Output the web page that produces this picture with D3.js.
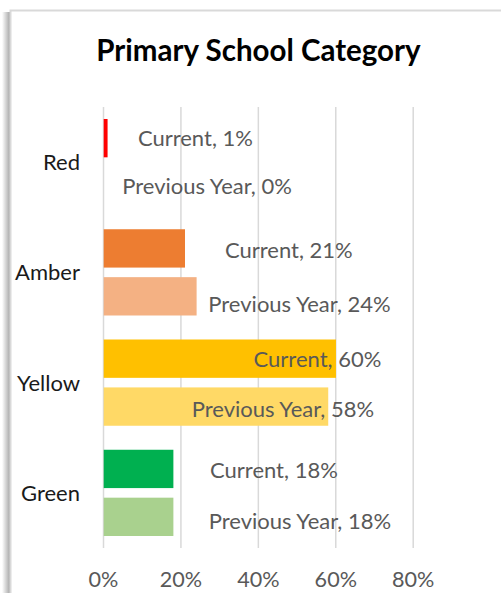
<!DOCTYPE html>
<html>
<head>
<meta charset="utf-8">
<script src="https://cdn.jsdelivr.net/npm/d3@7"></script>
<style>
  html, body { margin: 0; padding: 0; background: #fff; }
  svg { display: block; font-family: Lato, "Open Sans", sans-serif; }
</style>
</head>
<body>
<svg id="chart"></svg>
<script>
const categories = ['Red', 'Amber', 'Yellow', 'Green'];
const series = ['Current', 'Previous Year'];
const currentValues = [0.01, 0.21, 0.60, 0.18];
const previousValues = [0.00, 0.24, 0.58, 0.18];
const xTicks = [0, 0.2, 0.4, 0.6, 0.8];

// bar colours per category: [current, previous year]
const colors = {
  Red: ['#ff0000', '#ff9999'],
  Amber: ['#ed7d31', '#f4b183'],
  Yellow: ['#ffc000', '#ffd966'],
  Green: ['#00b050', '#a9d18e']
};

// hand placed data labels (centre in axis units, vertical nudge in px), as in the original
const labelCentre = [[0.2387, 0.2687], [0.480, 0.5076], [0.554, 0.4647], [0.4415, 0.5087]];
const labelNudge = [[0, 0.4], [1.7, 8], [0.4, 2.4], [0.7, 4]];

const W = 501, H = 593;
const svg = d3.select('#chart').attr('width', W).attr('height', H);

// frame with a soft shadow down the left side
const defs = svg.append('defs');
const grad = defs.append('linearGradient').attr('id', 'shadow');
grad.append('stop').attr('offset', '0%').attr('stop-color', '#fff');
grad.append('stop').attr('offset', '100%').attr('stop-color', '#a6a6a6');
svg.append('rect').attr('x', 2).attr('y', 12).attr('width', 8).attr('height', H - 12).attr('fill', 'url(#shadow)');
svg.append('path')
  .attr('d', `M10.5,${H} V10.5 H${W}`)
  .attr('fill', 'none')
  .attr('stroke', '#d9d9d9')
  .attr('stroke-width', 2);

svg.append('text')
  .attr('x', 258.5)
  .attr('y', 61)
  .attr('text-anchor', 'middle')
  .attr('font-size', 29.5)
  .attr('font-weight', 'bold')
  .attr('fill', '#000')
  .text('Primary School Category');

const plot = { left: 103, right: 412.7, top: 107, bottom: 548 };

const x = d3.scaleLinear().domain([0, 0.8]).range([plot.left, plot.right]);
const y = d3.scaleBand().domain(categories).range([plot.top, plot.bottom])
  .paddingInner(0.2177).paddingOuter(0.1088);
const ySub = d3.scaleBand().domain(series).range([0, y.bandwidth()]).paddingInner(0.2);

// gridlines
svg.append('g')
  .attr('transform', `translate(0,${plot.bottom})`)
  .call(d3.axisBottom(x).tickValues(xTicks).tickSize(-(plot.bottom - plot.top)).tickFormat(''))
  .call(g => g.select('.domain').remove())
  .call(g => g.selectAll('line').attr('stroke', '#d9d9d9').attr('stroke-width', 1.5));

// tick labels
svg.append('g')
  .attr('transform', `translate(0,${plot.bottom})`)
  .call(d3.axisBottom(x).tickValues(xTicks).tickSize(0).tickFormat(d3.format('.0%')))
  .call(g => g.select('.domain').remove())
  .call(g => g.selectAll('text')
    .attr('y', 38.7)
    .attr('dy', null)
    .attr('font-size', 21.6)
    .attr('font-family', 'Lato, "Open Sans", sans-serif')
    .attr('fill', '#595959'));

// category labels
svg.append('g')
  .selectAll('text')
  .data(categories)
  .enter()
  .append('text')
  .attr('x', 80)
  .attr('y', d => y(d) - y.paddingOuter() * y.step() + y.step() / 2)
  .attr('dy', '0.36em')
  .attr('text-anchor', 'end')
  .attr('font-size', 22)
  .attr('fill', '#1a1a1a')
  .text(d => d);

const rows = [];
categories.forEach((c, i) => {
  rows.push({ cat: c, i, s: 0, name: series[0], value: currentValues[i] });
  rows.push({ cat: c, i, s: 1, name: series[1], value: previousValues[i] });
});

svg.append('g')
  .selectAll('rect')
  .data(rows)
  .enter()
  .append('rect')
  .attr('x', x(0) + 0.7)
  .attr('y', d => y(d.cat) + ySub(d.name))
  .attr('width', d => x(d.value) - x(0))
  .attr('height', ySub.bandwidth())
  .attr('fill', d => colors[d.cat][d.s]);

svg.append('g')
  .selectAll('text')
  .data(rows)
  .enter()
  .append('text')
  .attr('x', d => x(labelCentre[d.i][d.s]))
  .attr('y', d => y(d.cat) + ySub(d.name) + ySub.bandwidth() / 2 + labelNudge[d.i][d.s])
  .attr('dy', '0.36em')
  .attr('text-anchor', 'middle')
  .attr('font-size', 22)
  .attr('fill', '#595959')
  .text(d => `${d.name}, ${d3.format('.0%')(d.value)}`);
</script>
</body>
</html>
